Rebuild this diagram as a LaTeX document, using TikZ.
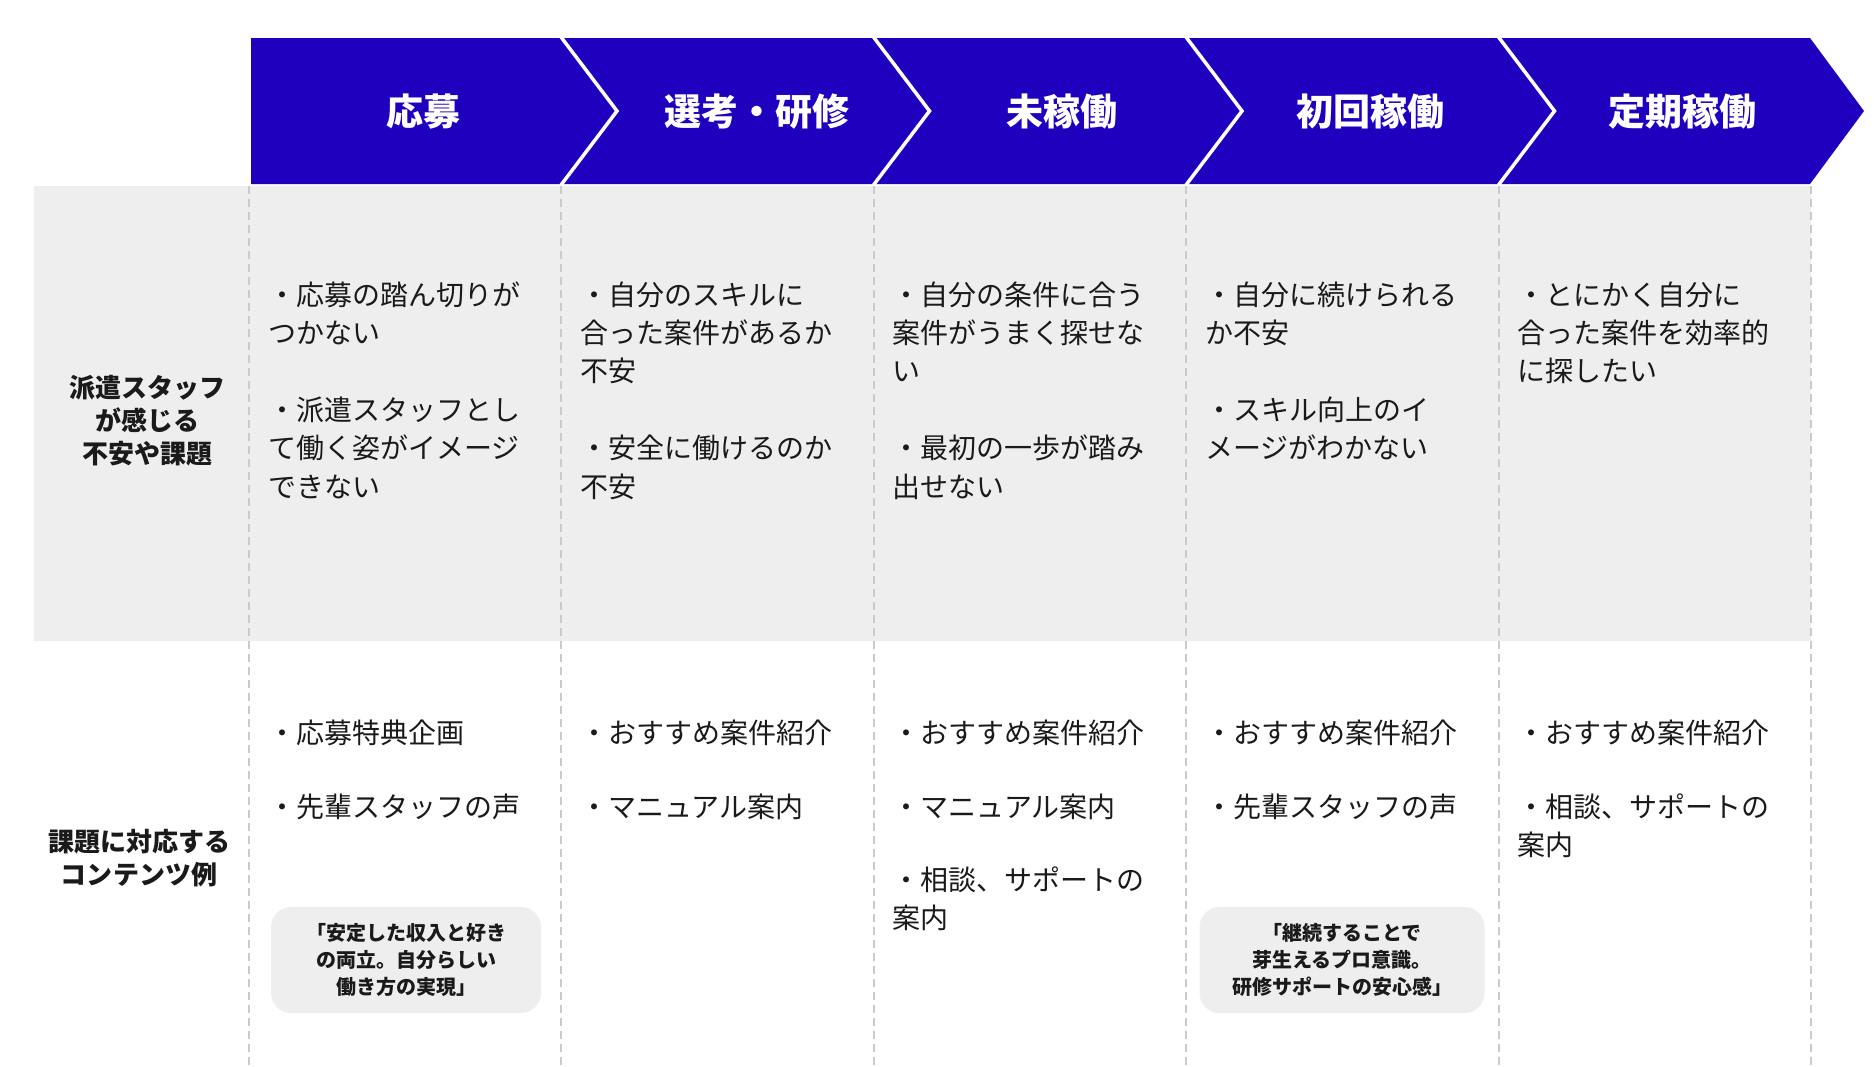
\documentclass[tikz,border=0pt]{standalone}
\usepackage{fontspec}
\setmainfont{Noto Sans CJK JP}
\definecolor{hdr}{HTML}{1E00BE}
\definecolor{band}{HTML}{EEEEEE}
\definecolor{dashc}{HTML}{CACACA}
\definecolor{ink}{HTML}{1A1A1A}
\tikzset{
  hdrtext/.style={text=white,inner sep=0,font=\fontsize{37}{40}\selectfont\bfseries},
  body/.style={anchor=north west,align=left,inner sep=0,text=ink,font=\fontsize{28}{38.4}\selectfont},
  bodylow/.style={anchor=north west,align=left,inner sep=0,text=ink,font=\fontsize{28}{38}\selectfont},
  rowlabel/.style={align=center,inner sep=0,text=ink,font=\fontsize{26}{33}\selectfont\bfseries},
  quotebox/.style={fill=band,rounded corners=20pt,align=center,inner sep=0,minimum height=106pt,text=ink,font=\fontsize{20}{27}\selectfont\bfseries},
  coldash/.style={draw=dashc,line width=2pt,dash pattern=on 8pt off 5pt},
  chev/.style={draw=white,line width=3.5pt}
}
\begin{document}
\begin{tikzpicture}[x=1pt,y=-1pt]
\useasboundingbox (0,0) rectangle (1876,1066);
% gray band
\fill[band] (34,186) rectangle (1810.5,641);
% dashed column separators
\foreach \i/\x in {0/249,1/561,2/873.5,3/1186,4/1498.5,5/1810.5}{
  \coordinate (dt\i) at (\x,186);
  \coordinate (db\i) at (\x,1066);
  \draw[coldash] (dt\i) -- (db\i);
}
% header arrow
\fill[hdr] (251,38) -- (1810,38) -- (1864,111) -- (1810,184) -- (251,184) -- cycle;
\foreach \i/\x in {1/561,2/873.5,3/1186,4/1498.5}{
  \coordinate (ct\i) at (\x,37);
  \coordinate (cm\i) at (\x+56,111);
  \coordinate (cb\i) at (\x,185);
  \draw[chev] (ct\i) -- (cm\i) -- (cb\i);
}
\node[hdrtext] (h1) at (423,112) {応募};
\node[hdrtext] (h2) at (757,112) {選考・研修};
\node[hdrtext] (h3) at (1062,112) {未稼働};
\node[hdrtext] (h4) at (1370,112) {初回稼働};
\node[hdrtext] (h5) at (1682,112) {定期稼働};
% row labels
\node[rowlabel] (r1) at (147,424) {\strut 派遣スタッフ\\\strut が感じる\\\strut 不安や課題};
\node[rowlabel] (r2) at (139,861) {\strut 課題に対応する\\\strut コンテンツ例};
% upper texts
\node[body] (u1) at (268,278) {\strut ・応募の踏ん切りが\\つかない\\\mbox{}\\・派遣スタッフとし\\て働く姿がイメージ\\できない};
\node[body] (u2) at (580,278) {\strut ・自分のスキルに\\合った案件があるか\\不安\\\mbox{}\\・安全に働けるのか\\不安};
\node[body] (u3) at (892.5,278) {\strut ・自分の条件に合う\\案件がうまく探せな\\い\\\mbox{}\\・最初の一歩が踏み\\出せない};
\node[body] (u4) at (1205,278) {\strut ・自分に続けられる\\か不安\\\mbox{}\\・スキル向上のイ\\メージがわかない};
\node[body] (u5) at (1517.5,278) {\strut ・とにかく自分に\\合った案件を効率的\\に探したい};
% lower texts
\node[bodylow] (l1) at (268,717) {\strut ・応募特典企画\\[35.5pt]・先輩スタッフの声};
\node[bodylow] (l2) at (580,717) {\strut ・おすすめ案件紹介\\[35.5pt]・マニュアル案内};
\node[bodylow] (l3) at (892.5,717) {\strut ・おすすめ案件紹介\\[35.5pt]・マニュアル案内\\[35.5pt]・相談、サポートの\\案内};
\node[bodylow] (l4) at (1205,717) {\strut ・おすすめ案件紹介\\[35.5pt]・先輩スタッフの声};
\node[bodylow] (l5) at (1517.5,717) {\strut ・おすすめ案件紹介\\[35.5pt]・相談、サポートの\\案内};
% quote boxes
\node[quotebox,minimum width=270pt] (q1) at (406,960) {「安定した収入と好き\\の両立。自分らしい\\働き方の実現」};
\node[quotebox,minimum width=285pt] (q4) at (1342,960) {「継続することで\\芽生えるプロ意識。\\研修サポートの安心感」};
\end{tikzpicture}
\end{document}
